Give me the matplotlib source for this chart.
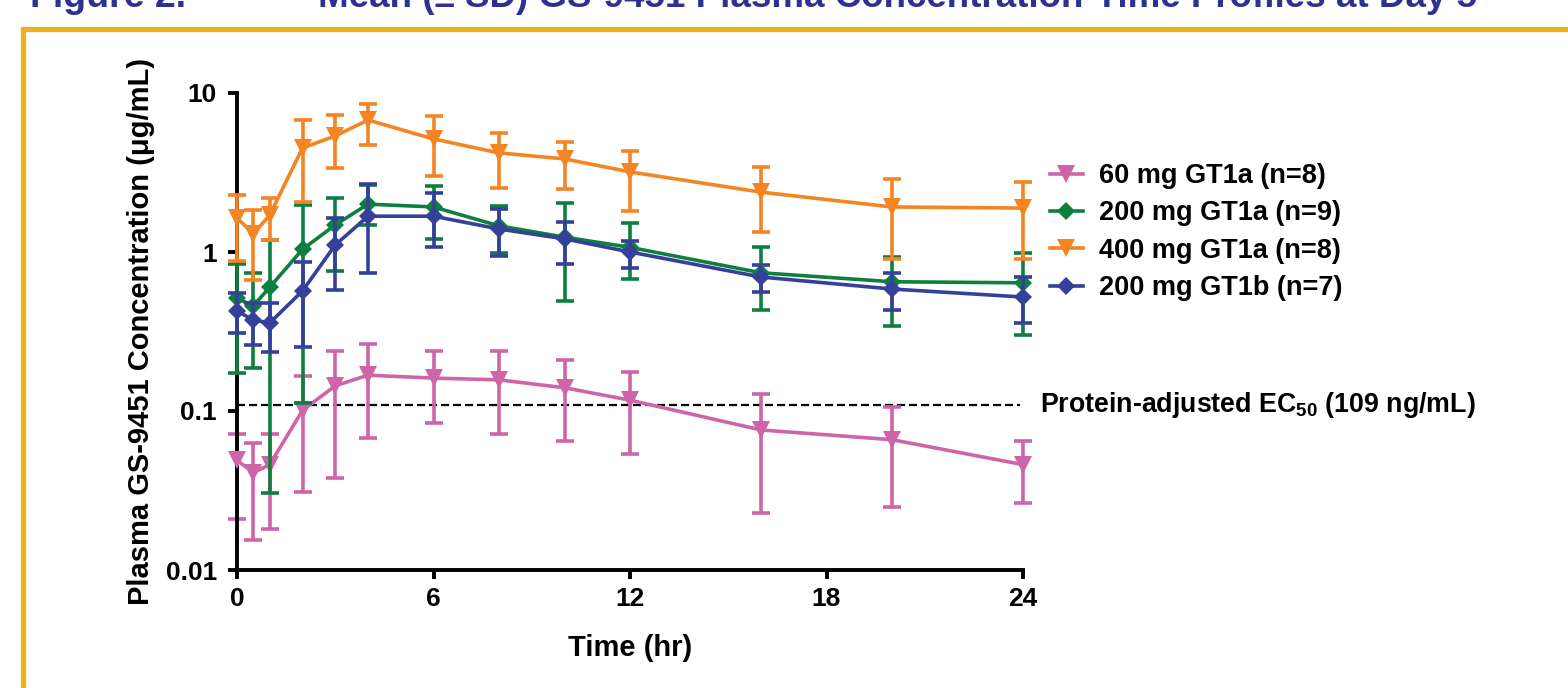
import matplotlib
matplotlib.use("Agg")
import matplotlib.pyplot as plt
from matplotlib.patches import Rectangle
from matplotlib.ticker import NullLocator

plt.rcParams['font.family'] = ['Liberation Sans', 'DejaVu Sans']
plt.rcParams['font.weight'] = 'bold'
plt.rcParams['mathtext.fontset'] = 'custom'
plt.rcParams['mathtext.rm'] = 'Liberation Sans:bold'
plt.rcParams['mathtext.it'] = 'Liberation Sans:bold'
plt.rcParams['mathtext.bf'] = 'Liberation Sans:bold'

# ---------------- data ----------------
time_hr = [0, 0.5, 1, 2, 3, 4, 6, 8, 10, 12, 16, 20, 24]

labels = ["60 mg GT1a (n=8)", "200 mg GT1a (n=9)", "400 mg GT1a (n=8)", "200 mg GT1b (n=7)"]

mean_60_1a = [0.049, 0.041, 0.046, 0.101, 0.144, 0.168, 0.161, 0.157, 0.140, 0.117, 0.076, 0.066, 0.046]
upper_60_1a = [0.072, 0.063, 0.072, 0.166, 0.238, 0.264, 0.238, 0.238, 0.209, 0.176, 0.128, 0.106, 0.065]
lower_60_1a = [0.021, 0.0154, 0.018, 0.031, 0.038, 0.068, 0.084, 0.072, 0.065, 0.054, 0.0228, 0.0249, 0.0264]

mean_200_1a = [0.51, 0.46, 0.60, 1.04, 1.48, 2.00, 1.92, 1.46, 1.24, 1.07, 0.74, 0.65, 0.64]
upper_200_1a = [0.84, 0.74, 1.19, 1.98, 2.19, 2.64, 2.60, 1.95, 2.03, 1.52, 1.07, 0.93, 0.99]
lower_200_1a = [0.173, 0.186, 0.0305, 0.112, 0.76, 1.48, 1.21, 0.99, 0.49, 0.68, 0.43, 0.34, 0.30]

mean_400_1a = [1.64, 1.30, 1.71, 4.51, 5.37, 6.76, 5.14, 4.20, 3.85, 3.19, 2.38, 1.92, 1.89]
upper_400_1a = [2.28, 1.84, 2.19, 6.76, 7.27, 8.53, 7.17, 5.60, 4.92, 4.32, 3.42, 2.88, 2.76]
lower_400_1a = [0.88, 0.67, 1.19, 2.06, 3.38, 4.71, 3.00, 2.53, 2.49, 1.81, 1.34, 0.90, 0.90]

mean_200_1b = [0.426, 0.373, 0.358, 0.569, 1.107, 1.68, 1.68, 1.395, 1.21, 1.00, 0.696, 0.585, 0.521]
upper_200_1b = [0.552, 0.478, 0.478, 0.865, 1.64, 2.68, 2.35, 1.86, 1.54, 1.17, 0.828, 0.738, 0.696]
lower_200_1b = [0.31, 0.26, 0.235, 0.253, 0.577, 0.738, 1.07, 0.944, 0.84, 0.79, 0.56, 0.432, 0.358]

ec50_ug_ml = 0.109
y_ticks = [0.01, 0.1, 1, 10]
y_tick_labels = ["0.01", "0.1", "1", "10"]
x_ticks = [0, 6, 12, 18, 24]

# ---------------- styles ----------------
series = [
    (mean_60_1a, lower_60_1a, upper_60_1a, labels[0], "#D064A8", "v", 12.5),
    (mean_200_1a, lower_200_1a, upper_200_1a, labels[1], "#0F7F3F", "D", 9.5),
    (mean_400_1a, lower_400_1a, upper_400_1a, labels[2], "#F58423", "v", 12.5),
    (mean_200_1b, lower_200_1b, upper_200_1b, labels[3], "#34409A", "D", 9.5),
]

W, H = 1568, 688
fig = plt.figure(figsize=(W / 100, H / 100), dpi=100)
fig.patch.set_facecolor("white")

# gold frame (top and left visible)
fig.patches.append(Rectangle((23 / W, -0.2), 1.5, 1 - 28.5 / H + 0.2, transform=fig.transFigure,
                             fill=False, edgecolor="#EDB21E", linewidth=3.8, zorder=0))

# title at very top (clipped by the figure edge, as in the reference)
title_y = 1 - 7 / H
fig.text(30 / W, title_y, "Figure 2.", color="#2E3192", fontsize=27, fontweight="bold",
         ha="left", va="baseline")
fig.text(318 / W, title_y, "Mean (\u00b1 SD) GS-9451 Plasma Concentration-Time Profiles at Day 5",
         color="#2E3192", fontsize=26.5, fontweight="bold", ha="left", va="baseline")

ax = fig.add_axes([237 / W, (H - 570) / H, 786 / W, 477 / H])
ax.set_yscale("log")
ax.set_xlim(0, 24)
ax.set_ylim(0.01, 10)

for i, (m, lo, up, lab, col, mk, ms) in enumerate(series):
    yerr = [[mi - li for mi, li in zip(m, lo)], [ui - mi for mi, ui in zip(m, up)]]
    eb = ax.errorbar(time_hr, m, yerr=yerr, fmt="none", ecolor=col, elinewidth=2.6,
                     capsize=6.5, capthick=2.6, zorder=2 + i)
    for art in list(eb.lines[1]) + list(eb.lines[2]):
        art.set_clip_on(False)
    ax.plot(time_hr, m, color=col, linewidth=2.6, marker=mk, markersize=ms,
            markeredgewidth=0, label=lab, zorder=3 + i, clip_on=False)

ax.hlines(ec50_ug_ml, 0, 23.9, colors="black", linewidth=1.6, linestyles=(0, (3.6, 1.8)), zorder=1)
ax.annotate("Protein-adjusted EC$_{50}$ (109 ng/mL)", xy=(24, ec50_ug_ml), xycoords="data",
            xytext=(12.5, 0), textcoords="offset points", ha="left", va="center",
            fontsize=19.3, fontweight="bold", annotation_clip=False)

for s in ["top", "right"]:
    ax.spines[s].set_visible(False)
for s in ["left", "bottom"]:
    ax.spines[s].set_linewidth(2.8)
ax.set_xticks(x_ticks)
ax.set_xticklabels([str(t) for t in x_ticks])
ax.set_yticks(y_ticks)
ax.set_yticklabels(y_tick_labels)
ax.yaxis.set_minor_locator(NullLocator())
ax.tick_params(axis="both", which="major", direction="out", length=6.5, width=2.8,
               labelsize=19, color="black")
ax.tick_params(axis="y", pad=8)
ax.tick_params(axis="x", pad=6)
for lbl in ax.get_xticklabels() + ax.get_yticklabels():
    lbl.set_fontweight("bold")

ax.set_xlabel("Time (hr)", fontsize=21, fontweight="bold")
ax.xaxis.set_label_coords(0.5, -0.135)
ax.set_ylabel("Plasma GS-9451 Concentration (\u03bcg/mL)", fontsize=21, fontweight="bold")
ax.yaxis.set_label_coords(-0.104, 0.5)

leg = ax.legend(loc="upper left", bbox_to_anchor=(1050 / W, (H - 163) / H),
                bbox_transform=fig.transFigure, frameon=False, fontsize=19.5,
                handlelength=1.2, handletextpad=0.6, labelspacing=0.42, borderpad=0,
                borderaxespad=0)
for t in leg.get_texts():
    t.set_fontweight("bold")

fig.savefig("out.png", dpi=100)
